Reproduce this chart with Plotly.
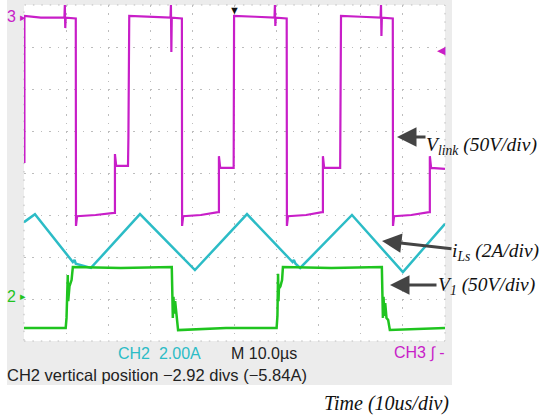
import plotly.graph_objects as go

# ---------------- data (time in us, amplitude in screen divisions, 0 = bottom) ----
t_vlink = [0.1, 0.1, 4.0, 9.6, 9.7, 9.8, 9.9, 12.3, 12.35, 12.6, 17.0, 21.4, 21.6, 21.6,
           21.9, 24.7, 24.8, 25.0, 30.0, 34.8, 34.9, 35.0, 35.1, 37.5, 37.55, 37.8, 42.0,
           46.1, 46.3, 46.3, 46.6, 49.8, 49.9, 55.0, 59.5, 59.6, 59.7, 59.8, 62.4, 62.45,
           62.7, 67.0, 70.8, 71.0, 71.0, 71.3, 75.1, 75.3, 80.0, 84.7, 84.8, 84.9, 85.0,
           87.6, 87.65, 87.9, 92.0, 96.2, 96.4, 96.4, 96.7, 100.0]
v_vlink = [4.24, 7.74, 7.70, 7.70, 8.00, 7.45, 7.70, 7.68, 2.74, 2.97, 3.00, 3.05, 3.05, 4.45,
           4.17, 4.17, 4.85, 7.74, 7.72, 7.70, 8.00, 6.88, 7.70, 7.68, 2.74, 2.97, 3.00,
           3.07, 3.07, 4.40, 4.12, 4.12, 7.74, 7.72, 7.70, 8.00, 7.50, 7.70, 7.68, 2.74,
           2.97, 3.00, 3.07, 3.07, 4.40, 4.12, 4.12, 7.74, 7.72, 7.70, 8.00, 7.26, 7.70,
           7.68, 2.74, 2.97, 3.00, 3.07, 3.07, 4.40, 4.12, 4.10]

t_ils = [0.0, 2.6, 11.6, 12.0, 12.3, 15.9, 27.55, 40.6, 52.97, 63.8, 64.1, 64.5, 65.6,
         77.9, 90.0, 100.0]
v_ils = [2.83, 3.02, 1.88, 1.93, 1.84, 1.74, 3.02, 1.69, 3.02, 1.88, 1.93, 1.84, 1.74,
         3.00, 1.64, 2.79]

t_v1 = [0.0, 9.9, 10.1, 10.3, 10.4, 10.5, 10.8, 11.3, 11.6, 23.0, 35.1, 35.2, 35.35, 35.5,
        35.7, 35.9, 36.2, 36.4, 36.6, 48.0, 60.0, 60.2, 60.35, 60.45, 60.55, 60.9, 61.3,
        61.5, 73.0, 85.0, 85.1, 85.25, 85.4, 85.6, 85.8, 86.1, 86.5, 86.9, 100.0]
v_v1 = [0.31, 0.31, 0.55, 1.05, 1.57, 0.95, 1.30, 1.45, 1.76, 1.74, 1.76, 1.30, 0.55, 1.05,
        0.65, 0.95, 0.70, 0.50, 0.26, 0.31, 0.31, 0.60, 1.60, 0.95, 1.25, 1.30, 1.45,
        1.76, 1.74, 1.76, 1.30, 0.55, 1.05, 0.60, 0.90, 0.55, 0.50, 0.26, 0.31]

x_ticks = [0, 10, 20, 30, 40, 50, 60, 70, 80, 90, 100]
y_ticks = [0, 1, 2, 3, 4, 5, 6, 7, 8]

status_ch2 = "CH2  2.00A"
status_m = "M 10.0µs"
status_ch3 = "CH3 ∫ -"
status_line2 = "CH2 vertical position −2.92 divs (−5.84A)"
label_vlink = "<i>V<sub>link</sub> (50V/div)</i>"
label_ils = "<i>i<sub>Ls</sub> (2A/div)</i>"
label_v1 = "<i>V<sub>1</sub> (50V/div)</i>"
label_time = "<i>Time (10us/div)</i>"

MAGENTA = "#c81ec8"
CYAN = "#2cbcc6"
GREEN = "#1fc41f"

# ---------------- layout helpers --------------------------------------------------
W, H = 542, 417
L, R, T, B = 24, 97, 5, 76


def px(x):
    return (x - L) / (W - L - R)


def py(y):
    return (H - B - y) / (H - T - B)


fig = go.Figure()
fig.add_trace(go.Scatter(x=t_vlink, y=v_vlink, mode="lines",
                         line=dict(color=MAGENTA, width=2.2), hoverinfo="skip"))
fig.add_trace(go.Scatter(x=t_ils, y=v_ils, mode="lines",
                         line=dict(color=CYAN, width=2.5), hoverinfo="skip"))
fig.add_trace(go.Scatter(x=t_v1, y=v_v1, mode="lines",
                         line=dict(color=GREEN, width=2.5), hoverinfo="skip"))

GRID = "#bdbdbd"
DASH = "1.5px,6.9px"

shapes = [
    dict(type="rect", xref="paper", yref="paper", x0=px(7), x1=px(452), y0=py(385), y1=py(0),
         fillcolor="#ececec", line=dict(width=0), layer="below"),
    dict(type="rect", xref="paper", yref="paper", x0=0, x1=1, y0=0, y1=1,
         fillcolor="white", line=dict(width=0), layer="below"),
    dict(type="rect", xref="paper", yref="paper", x0=0, x1=1, y0=0, y1=1,
         line=dict(color=GRID, width=1, dash=DASH), layer="below"),
]

sans = "Liberation Sans, Arial, sans-serif"
serif = "Liberation Serif, Times New Roman, serif"

ann = []


def text(x, y, s, color, size, family, xanchor="left"):
    ann.append(dict(x=px(x), y=py(y), xref="paper", yref="paper", text=s, showarrow=False,
                    xanchor=xanchor, yanchor="middle",
                    font=dict(color=color, size=size, family=family)))


def arrow(xh, yh, xt, yt):
    ann.append(dict(x=px(xh), y=py(yh), xref="paper", yref="paper", text="",
                    showarrow=True, ax=xt - xh, ay=yt - yh, arrowhead=2, arrowsize=1.3,
                    arrowwidth=3, arrowcolor="#444444"))


text(116, 353, status_ch2, CYAN, 16, sans)
text(229, 353, status_m, "#222222", 16, sans)
text(392, 353, status_ch3, MAGENTA, 16, sans)
text(5, 375, status_line2, "#222222", 16.5, sans)

text(5, 17, "3", MAGENTA, 16, sans)
text(18, 17, "▸", MAGENTA, 11, sans)
text(5, 296, "2", GREEN, 16, sans)
text(18, 296, "▸", GREEN, 11, sans)
text(234, 10, "▼", "#111111", 11, sans, xanchor="center")
text(441, 50, "◀", MAGENTA, 11, sans, xanchor="center")

text(424, 146, label_vlink, "#111111", 19.5, serif)
text(450, 252, label_ils, "#111111", 19.5, serif)
text(436, 286, label_v1, "#111111", 19.5, serif)
text(322, 403, label_time, "#111111", 20, serif)

arrow(397, 137, 427, 137)
arrow(382, 241, 453, 249)
arrow(390, 285, 438, 285)

fig.update_layout(
    width=W, height=H,
    margin=dict(l=L, r=R, t=T, b=B, pad=0),
    paper_bgcolor="white", plot_bgcolor="white",
    showlegend=False,
    shapes=shapes, annotations=ann,
    xaxis=dict(range=[0, 100], tickvals=x_ticks, showticklabels=False, ticks="",
               showgrid=True, gridcolor=GRID, griddash=DASH, gridwidth=1,
               zeroline=False, showline=False, fixedrange=True),
    yaxis=dict(range=[0, 8], tickvals=y_ticks, showticklabels=False, ticks="",
               showgrid=True, gridcolor=GRID, griddash=DASH, gridwidth=1,
               zeroline=False, showline=False, fixedrange=True),
)

fig.write_html("out.html", config={"displayModeBar": False},
               post_script="document.body.style.margin='0';document.body.style.padding='0';")
